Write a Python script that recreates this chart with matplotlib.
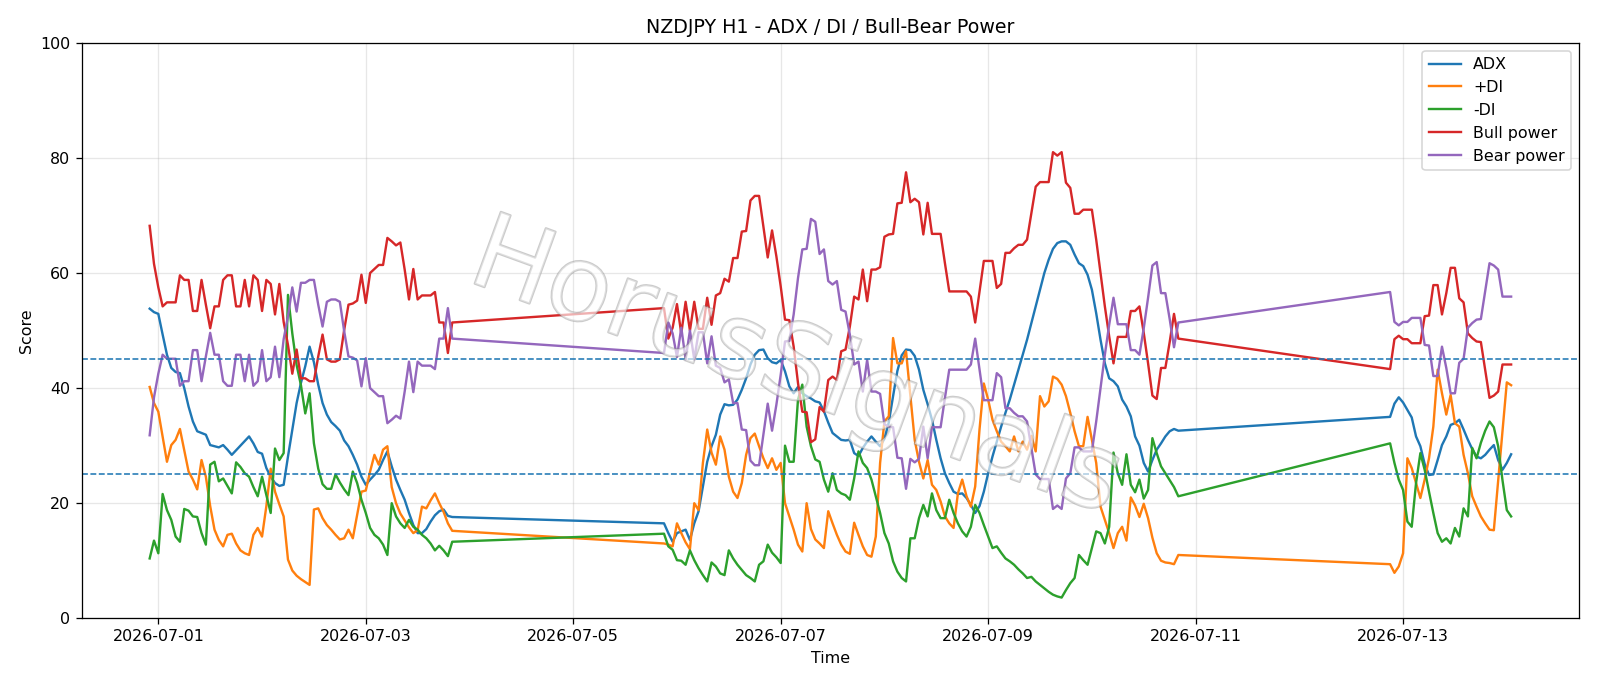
import matplotlib
matplotlib.use("Agg")
import matplotlib.pyplot as plt
import matplotlib.dates as mdates
import matplotlib.patheffects as pe
import pandas as pd

# hourly bars, three trading blocks (weekend gaps in between)
seg_starts = ["2026-06-30 22:00", "2026-07-05 21:00", "2026-07-12 21:00"]
seg_lengths = [71, 120, 29]

adx = [
    53.8, 53.2, 52.9, 49.3, 45.8, 43.5, 42.8, 42.6, 40.0, 36.8, 34.2, 32.5, 32.2, 31.9, 30.1, 29.9,
    29.7, 30.1, 29.3, 28.4, 29.2, 30.0, 30.8, 31.6, 30.4, 28.9, 28.6, 26.1, 24.6, 23.5, 23.0, 23.2,
    28.1, 32.7, 37.4, 40.9, 43.8, 47.2, 44.5, 40.6, 37.4, 35.4, 34.1, 33.4, 32.6, 30.9, 29.9, 28.4,
    26.7, 24.6, 23.2, 24.1, 24.9, 25.8, 27.5, 29.0, 26.4, 24.1, 22.3, 20.6, 18.3, 16.2, 14.8, 14.8,
    15.5, 16.8, 17.9, 18.6, 18.9, 17.8, 17.6,
    16.5, 14.8, 13.3, 14.8, 15.1, 15.4, 13.6, 16.5, 18.6, 22.9, 27.2, 29.9, 31.9, 35.4, 37.2, 37.0,
    37.1, 38.0, 39.7, 41.7, 44.1, 45.8, 46.6, 46.7, 45.2, 44.5, 44.3, 44.9, 42.9, 40.3, 39.1, 40.2,
    39.1, 38.6, 38.2, 37.7, 37.5, 36.0, 34.0, 32.2, 31.6, 31.0, 30.9, 31.0, 28.7, 28.2, 29.6, 30.7,
    31.6, 30.7, 29.9, 31.2, 34.0, 38.6, 43.0, 45.7, 46.7, 46.6, 45.6, 43.2, 39.7, 37.2, 34.5, 31.0,
    27.8, 25.2, 23.5, 22.0, 21.6, 21.7, 20.9, 19.7, 18.3, 19.5, 22.0, 25.2, 28.1, 30.7, 33.3, 35.7,
    38.0, 40.6, 43.2, 45.8, 48.4, 51.3, 54.2, 57.1, 60.0, 62.3, 64.2, 65.2, 65.5, 65.5, 64.9, 63.2,
    61.7, 61.2, 59.7, 57.1, 53.0, 48.4, 44.3, 41.7, 41.2, 40.3, 38.0, 36.8, 35.1, 31.6, 30.0, 27.0,
    25.5, 27.5, 29.3, 30.4, 31.6, 32.5, 32.9, 32.6,
    35.0, 37.3, 38.4, 37.5, 36.2, 34.9, 31.6, 29.9, 26.8, 24.9, 25.0, 27.5, 30.1, 31.6, 33.6, 33.9,
    34.5, 32.8, 31.0, 29.4, 28.1, 27.8, 28.4, 29.3, 30.1, 27.5, 25.8, 27.0, 28.5,
]

plus_di = [
    40.2, 37.4, 35.9, 31.6, 27.2, 30.1, 31.0, 32.9, 29.2, 25.5, 24.1, 22.4, 27.5, 24.6, 19.5, 15.4,
    13.6, 12.5, 14.5, 14.7, 13.0, 11.8, 11.3, 11.0, 14.5, 15.7, 14.2, 19.5, 26.0, 22.0, 19.8, 17.7,
    10.2, 8.3, 7.4, 6.8, 6.3, 5.8, 18.9, 19.1, 17.4, 16.2, 15.4, 14.5, 13.7, 13.9, 15.4, 13.9,
    18.0, 22.0, 22.2, 25.5, 28.4, 26.7, 29.3, 29.9, 22.8, 20.0, 18.2, 17.0, 15.8, 14.8, 15.3, 19.4,
    19.1, 20.5, 21.7, 20.0, 18.5, 16.5, 15.2,
    13.0, 12.8, 12.5, 16.5, 14.8, 13.2, 12.0, 20.0, 18.8, 27.0, 32.8, 28.8, 26.7, 31.6, 29.3, 24.6,
    22.0, 20.9, 23.5, 28.4, 31.3, 32.1, 29.9, 27.8, 26.1, 27.8, 25.8, 27.0, 20.0, 17.7, 15.4, 12.8,
    11.6, 20.0, 15.5, 13.7, 13.0, 12.2, 18.6, 16.5, 14.5, 12.8, 11.6, 11.2, 16.6, 14.5, 12.5, 11.0,
    10.7, 14.2, 27.0, 34.2, 35.1, 48.7, 44.3, 44.3, 46.4, 38.6, 31.0, 27.2, 24.3, 27.5, 23.2, 22.3,
    20.3, 17.7, 16.5, 15.7, 21.7, 24.1, 21.2, 19.4, 22.9, 32.8, 40.8, 38.0, 34.5, 32.5, 30.7, 29.9,
    29.0, 31.6, 29.0, 30.7, 29.3, 31.7, 29.0, 38.6, 36.8, 37.7, 42.0, 41.6, 40.6, 38.6, 35.7, 32.5,
    29.9, 29.9, 35.0, 31.0, 27.0, 19.4, 17.1, 14.8, 12.2, 14.8, 15.9, 13.5, 21.0, 19.6, 17.6, 19.9,
    17.4, 14.0, 11.3, 10.0, 9.7, 9.6, 9.4, 11.0,
    9.4, 7.9, 9.0, 11.3, 27.8, 26.1, 23.5, 20.9, 24.1, 27.8, 33.3, 43.2, 39.1, 35.4, 38.8, 33.9,
    33.3, 28.4, 25.2, 21.2, 19.4, 17.7, 16.5, 15.4, 15.3, 24.0, 32.5, 41.0, 40.5,
]

minus_di = [
    10.4, 13.5, 11.3, 21.6, 18.8, 17.1, 14.2, 13.3, 19.0, 18.7, 17.7, 17.6, 14.8, 12.8, 26.7, 27.2,
    23.8, 24.3, 23.0, 21.7, 27.1, 26.3, 25.2, 24.6, 22.8, 21.2, 24.6, 21.4, 18.3, 29.5, 27.5, 28.7,
    56.2, 49.5, 44.0, 40.5, 35.6, 39.1, 30.4, 26.0, 23.3, 22.5, 22.5, 25.0, 23.6, 22.4, 21.4, 25.5,
    23.5, 20.6, 18.3, 15.7, 14.5, 13.9, 12.8, 11.0, 20.0, 17.7, 16.5, 15.7, 17.1, 15.9, 15.4, 14.5,
    13.9, 13.0, 11.8, 12.6, 11.8, 10.8, 13.3,
    14.7, 12.5, 11.9, 10.1, 10.0, 9.3, 11.8, 10.1, 8.7, 7.5, 6.4, 9.7, 9.0, 7.8, 7.5, 11.8,
    10.4, 9.3, 8.4, 7.5, 7.0, 6.4, 9.3, 9.9, 12.8, 11.4, 10.6, 9.6, 30.0, 27.2, 27.2, 38.0,
    40.6, 33.3, 29.9, 27.6, 27.2, 24.1, 22.0, 25.2, 22.3, 21.7, 21.4, 20.6, 24.3, 29.0, 27.0, 26.1,
    24.1, 21.2, 18.3, 14.8, 13.0, 9.9, 8.1, 7.0, 6.4, 13.9, 13.9, 17.4, 19.7, 17.7, 21.7, 18.8,
    17.4, 17.4, 20.6, 18.3, 16.5, 15.1, 14.2, 15.9, 19.7, 18.3, 16.2, 14.2, 12.2, 12.5, 11.4, 10.4,
    9.9, 9.3, 8.5, 7.8, 7.0, 7.2, 6.4, 5.8, 5.2, 4.6, 4.1, 3.8, 3.6, 4.9, 6.1, 7.0,
    11.0, 10.1, 9.3, 12.2, 15.1, 14.8, 13.0, 15.9, 28.8, 25.2, 23.2, 28.5, 23.2, 21.9, 24.1, 20.8,
    22.3, 31.3, 28.7, 26.4, 25.2, 24.0, 22.8, 21.2,
    30.4, 27.0, 24.1, 22.3, 16.8, 15.9, 23.5, 28.7, 25.8, 22.0, 18.3, 14.8, 13.3, 13.9, 13.0, 15.7,
    14.2, 19.1, 17.7, 29.6, 27.8, 30.5, 32.6, 34.2, 33.2, 29.9, 24.0, 18.8, 17.7,
]

bull_power = [
    68.2, 61.6, 57.5, 54.2, 54.9, 54.9, 54.9, 59.6, 58.8, 58.8, 53.4, 53.4, 58.8, 54.5, 50.4, 54.2,
    54.2, 58.8, 59.6, 59.6, 54.2, 54.2, 58.8, 54.2, 59.6, 58.8, 53.4, 58.8, 58.1, 52.8, 58.1, 51.5,
    47.5, 42.5, 46.7, 41.7, 41.7, 41.2, 41.2, 45.5, 49.3, 45.0, 44.6, 44.6, 45.0, 50.1, 54.5, 54.7,
    55.2, 59.7, 54.8, 60.0, 60.7, 61.4, 61.4, 66.1, 65.5, 64.8, 65.3, 60.6, 55.4, 60.7, 55.4, 56.1,
    56.1, 56.1, 56.7, 51.4, 51.4, 46.1, 51.4,
    53.9, 48.6, 50.5, 54.6, 49.5, 55.0, 50.0, 55.0, 50.3, 50.3, 55.7, 51.0, 56.1, 56.5, 59.0, 58.5,
    62.6, 62.6, 67.2, 67.3, 72.6, 73.4, 73.4, 68.1, 62.7, 67.4, 62.9, 57.7, 51.9, 51.8, 47.2, 40.9,
    35.9, 35.8, 30.6, 31.1, 36.7, 35.9, 41.4, 42.0, 41.4, 46.4, 46.7, 50.7, 55.9, 55.4, 60.6, 55.1,
    60.6, 60.6, 61.0, 66.3, 66.7, 66.8, 72.1, 72.2, 77.5, 72.3, 72.9, 72.3, 66.7, 72.2, 66.8, 66.8,
    66.8, 61.7, 56.8, 56.8, 56.8, 56.8, 56.8, 55.9, 51.4, 56.8, 62.1, 62.1, 62.1, 57.4, 58.1, 63.5,
    63.5, 64.3, 64.9, 64.9, 65.8, 70.4, 75.0, 75.8, 75.8, 75.8, 81.0, 80.4, 81.0, 75.7, 74.8, 70.3,
    70.3, 71.0, 71.0, 71.0, 65.8, 60.0, 54.2, 49.0, 44.3, 48.9, 48.9, 48.9, 53.4, 53.4, 54.2, 49.6,
    44.3, 38.7, 38.1, 43.5, 43.5, 48.0, 52.9, 48.6,
    43.3, 48.5, 49.1, 48.5, 48.5, 47.8, 47.8, 47.8, 52.5, 52.6, 57.9, 57.9, 52.8, 56.5, 60.9, 60.9,
    55.6, 54.9, 49.5, 48.7, 48.1, 48.0, 43.2, 38.3, 38.7, 39.4, 44.1, 44.1, 44.1,
]

bear_power = [
    31.8, 38.4, 42.5, 45.8, 45.1, 45.1, 45.1, 40.4, 41.2, 41.2, 46.6, 46.6, 41.2, 45.5, 49.6, 45.8,
    45.8, 41.2, 40.4, 40.4, 45.8, 45.8, 41.2, 45.8, 40.4, 41.2, 46.6, 41.2, 41.9, 47.2, 41.9, 48.5,
    52.5, 57.5, 53.3, 58.3, 58.3, 58.8, 58.8, 54.5, 50.7, 55.0, 55.4, 55.4, 55.0, 49.9, 45.5, 45.3,
    44.8, 40.3, 45.2, 40.0, 39.3, 38.6, 38.6, 33.9, 34.5, 35.2, 34.7, 39.4, 44.6, 39.3, 44.6, 43.9,
    43.9, 43.9, 43.3, 48.6, 48.6, 53.9, 48.6,
    46.1, 51.4, 49.5, 45.4, 50.5, 45.0, 50.0, 45.0, 49.7, 49.7, 44.3, 49.0, 43.9, 43.5, 41.0, 41.5,
    37.4, 37.4, 32.8, 32.7, 27.4, 26.6, 26.6, 31.9, 37.3, 32.6, 37.1, 42.3, 48.1, 48.2, 52.8, 59.1,
    64.1, 64.2, 69.4, 68.9, 63.3, 64.1, 58.6, 58.0, 58.6, 53.6, 53.3, 49.3, 44.1, 44.6, 39.4, 44.9,
    39.4, 39.4, 39.0, 33.7, 33.3, 33.2, 27.9, 27.8, 22.5, 27.7, 27.1, 27.7, 33.3, 27.8, 33.2, 33.2,
    33.2, 38.3, 43.2, 43.2, 43.2, 43.2, 43.2, 44.1, 48.6, 43.2, 37.9, 37.9, 37.9, 42.6, 41.9, 36.5,
    36.5, 35.7, 35.1, 35.1, 34.2, 29.6, 25.0, 24.2, 24.2, 24.2, 19.0, 19.6, 19.0, 24.3, 25.2, 29.7,
    29.7, 29.0, 29.0, 29.0, 34.2, 40.0, 45.8, 51.0, 55.7, 51.1, 51.1, 51.1, 46.6, 46.6, 45.8, 50.4,
    55.7, 61.3, 61.9, 56.5, 56.5, 52.0, 47.1, 51.4,
    56.7, 51.5, 50.9, 51.5, 51.5, 52.2, 52.2, 52.2, 47.5, 47.4, 42.1, 42.1, 47.2, 43.5, 39.1, 39.1,
    44.4, 45.1, 50.5, 51.3, 51.9, 52.0, 56.8, 61.7, 61.3, 60.6, 55.9, 55.9, 55.9,
]

times = pd.DatetimeIndex([])
for start, n in zip(seg_starts, seg_lengths):
    times = times.append(pd.date_range(start, periods=n, freq="h"))

fig, ax = plt.subplots(figsize=(14, 6.003), dpi=1600 / 14)
fig.subplots_adjust(left=0.051, right=0.987, bottom=0.0987, top=0.9375)

ax.plot(times, adx, label="ADX", lw=1.5)
ax.plot(times, plus_di, label="+DI", lw=1.5)
ax.plot(times, minus_di, label="-DI", lw=1.5)
ax.plot(times, bull_power, label="Bull power", lw=1.5)
ax.plot(times, bear_power, label="Bear power", lw=1.5)

ax.axhline(45, color="C0", linestyle="--", lw=1)
ax.axhline(25, color="C0", linestyle="--", lw=1)

ax.set_ylim(0, 100)
ax.set_title("NZDJPY H1 - ADX / DI / Bull-Bear Power")
ax.set_xlabel("Time")
ax.set_ylabel("Score")
ax.grid(True, alpha=0.3)
ax.legend(loc="upper right")

ax.xaxis.set_major_locator(mdates.DayLocator(bymonthday=range(1, 32, 2)))
ax.xaxis.set_major_formatter(mdates.DateFormatter("%Y-%m-%d"))

# watermark
ax.text(0.477, 0.432, "HorusSignals", transform=ax.transAxes, fontsize=66,
        rotation=-20, ha="center", va="center", color=(1, 1, 1, 0.4), zorder=5,
        path_effects=[pe.withStroke(linewidth=1.4, foreground=(0.55, 0.55, 0.55, 0.45))])

fig.savefig("out.png", dpi=1600 / 14)
